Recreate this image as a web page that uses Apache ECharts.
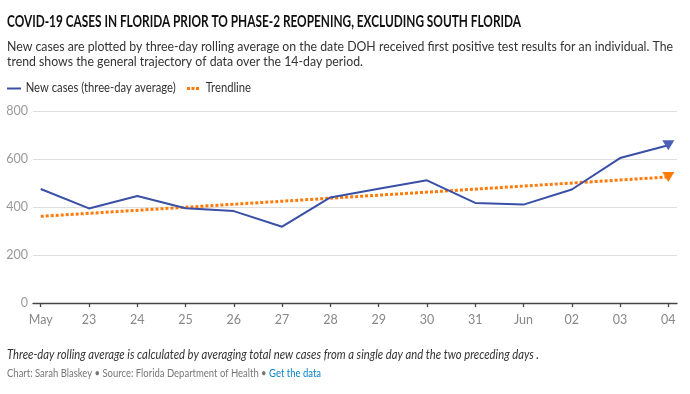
<!DOCTYPE html>
<html>
<head>
<meta charset="utf-8">
<script src="https://cdn.jsdelivr.net/npm/echarts@6/dist/echarts.min.js"></script>
<style>
html,body{margin:0;padding:0;background:#fff;}
#chart{width:690px;height:394px;}
</style>
</head>
<body>
<div id="chart"></div>
<script>
// ---- data ----
const categories = ['May','23','24','25','26','27','28','29','30','31','Jun','02','03','04'];
const newCases = [475, 394, 446, 395, 383, 318, 440, 476, 511, 417, 410, 473, 604, 657];
const trendDays = ['May', '04'];
const trendValues = [361, 525];
const yTicks = [0, 200, 400, 600, 800];

const titleText = 'COVID-19 CASES IN FLORIDA PRIOR TO PHASE-2 REOPENING, EXCLUDING SOUTH FLORIDA';
const subLine1 = 'New cases are plotted by three-day rolling average on the date DOH received first positive test results for an individual. The';
const subLine2 = 'trend shows the general trajectory of data over the 14-day period.';
const noteText = 'Three-day rolling average is calculated by averaging total new cases from a single day and the two preceding days .';
const creditText = 'Chart: Sarah Blaskey \u2022 Source: Florida Department of Health \u2022 ';
const linkText = 'Get the data';
const legendNames = ['New cases (three-day average)', 'Trendline'];

// ---- styles ----
const BLUE = '#3a4fa6';
const BLUE_MARK = '#4a5fb5';
const ORANGE = '#ff7b0a';
const FONT = 'Lato, "Noto Sans", sans-serif';

const cv = document.createElement('canvas').getContext('2d');
function scaleFor(text, weight, style, size, target) {
  cv.font = style + ' ' + weight + ' ' + size + 'px ' + FONT;
  return target / cv.measureText(text).width;
}

function txt(x, y, text, size, sx, opts) {
  opts = opts || {};
  return {
    type: 'text', x: x, y: y, scaleX: sx, silent: true,
    style: Object.assign({
      text: text,
      fontSize: size,
      fontFamily: FONT,
      fill: '#333',
      verticalAlign: 'middle',
      textVerticalAlign: 'middle'
    }, opts)
  };
}

const blueData = newCases.map((v, i) => ({
  value: [i, v],
  symbol: i === newCases.length - 1 ? 'triangle' : 'none',
  symbolSize: [12, 10],
  symbolRotate: 180,
  itemStyle: { color: BLUE_MARK }
}));
const trendData = trendValues.map((v, k) => ({
  value: [categories.indexOf(trendDays[k]), v],
  symbol: k === trendValues.length - 1 ? 'triangle' : 'none',
  symbolSize: [12, 10],
  symbolRotate: 180,
  itemStyle: { color: ORANGE }
}));

const titleScale = scaleFor(titleText, 'bold', 'normal', 17, 514);
const subScale = scaleFor(subLine1, 'normal', 'normal', 14, 666);
const legScale = scaleFor(legendNames[0], 'normal', 'normal', 13, 150);
const noteScale = scaleFor(noteText, 'normal', 'italic', 12.5, 532);
const creditScale = scaleFor(creditText + linkText, 'normal', 'normal', 11, 314);

const chart = echarts.init(document.getElementById('chart'), null, { renderer: 'canvas' });
chart.setOption({
  animation: false,
  backgroundColor: '#fff',
  grid: { left: 33, right: 13, top: 111, bottom: 91, containLabel: false },
  xAxis: {
    type: 'value',
    min: -0.16,
    max: 13.18,
    splitLine: { show: false },
    axisLine: { show: true, onZero: false, lineStyle: { color: '#444', width: 1.3 } },
    axisTick: { show: true, length: 4, customValues: categories.map((c, i) => i), lineStyle: { color: '#444', width: 1.3 } },
    axisLabel: {
      customValues: categories.map((c, i) => i),
      formatter: v => categories[Math.round(v)],
      color: '#888', fontSize: 12.5, fontFamily: FONT, margin: 10
    }
  },
  yAxis: {
    type: 'value',
    min: yTicks[0],
    max: yTicks[yTicks.length - 1],
    interval: yTicks[1] - yTicks[0],
    axisLine: { show: false },
    axisTick: { show: false },
    axisLabel: { color: '#999', fontSize: 12.5, fontFamily: FONT, margin: 5 },
    splitLine: { lineStyle: { color: '#dedede', width: 1 } }
  },
  series: [
    {
      name: legendNames[1],
      type: 'line',
      data: trendData,
      symbol: 'triangle',
      lineStyle: { color: ORANGE, width: 3, type: [3, 2], cap: 'butt' },
      itemStyle: { color: ORANGE },
      z: 2
    },
    {
      name: legendNames[0],
      type: 'line',
      data: blueData,
      symbol: 'triangle',
      lineStyle: { color: BLUE, width: 2 },
      itemStyle: { color: BLUE_MARK },
      z: 3
    }
  ],
  graphic: [
    txt(7, 22, titleText, 17, titleScale, { fontWeight: 'bold', fill: '#111' }),
    txt(7, 46.7, subLine1, 14, subScale),
    txt(7, 61.2, subLine2, 14, subScale),
    { type: 'line', silent: true, shape: { x1: 7, y1: 88.5, x2: 21, y2: 88.5 }, style: { stroke: BLUE, lineWidth: 2 } },
    txt(25.7, 88.3, legendNames[0], 13, legScale),
    { type: 'line', silent: true, shape: { x1: 187, y1: 88.5, x2: 199, y2: 88.5 }, style: { stroke: ORANGE, lineWidth: 3, lineDash: [3, 1.5] } },
    txt(205.7, 88.3, legendNames[1], 13, legScale),
    txt(7, 355, noteText, 12.5, noteScale, { fontStyle: 'italic', fill: '#333' }),
    {
      type: 'text', x: 7, y: 373.3, scaleX: creditScale, silent: true,
      style: {
        text: '{a|' + creditText + '}{b|' + linkText + '}',
        verticalAlign: 'middle', textVerticalAlign: 'middle',
        rich: {
          a: { fontSize: 11, fontFamily: FONT, fill: '#777', color: '#777' },
          b: { fontSize: 11, fontFamily: FONT, fill: '#0a82c8', color: '#0a82c8' }
        }
      }
    }
  ]
});
</script>
</body>
</html>
